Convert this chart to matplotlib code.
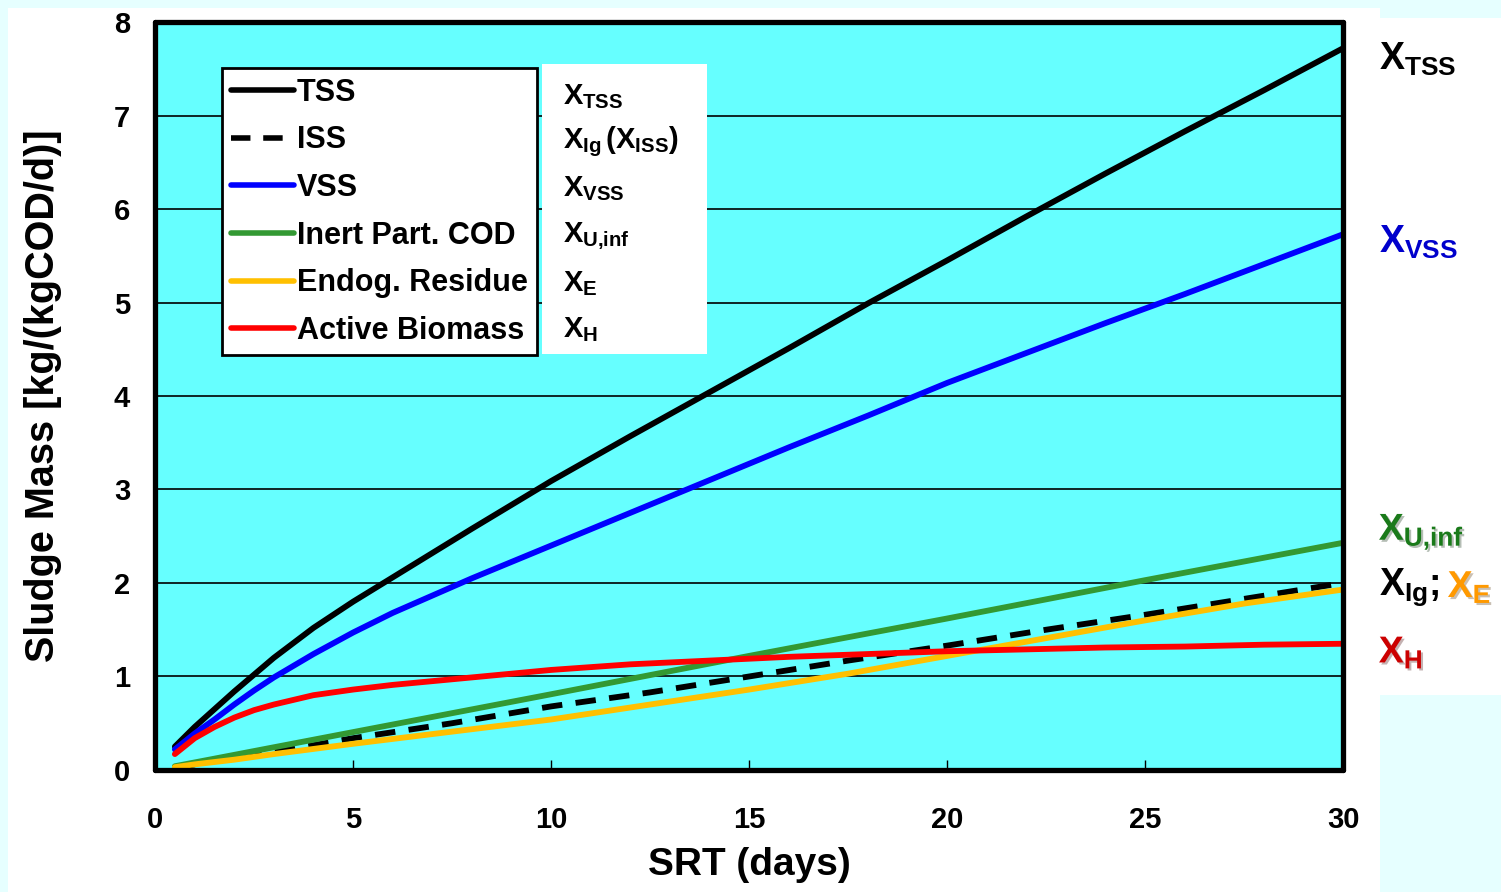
import matplotlib
matplotlib.use("Agg")
import matplotlib.pyplot as plt
from matplotlib.patches import Rectangle
import matplotlib.transforms as mtransforms
import matplotlib.patheffects as pe

plt.rcParams['font.family'] = ['Liberation Sans', 'DejaVu Sans']
plt.rcParams['font.weight'] = 'bold'
plt.rcParams['mathtext.fontset'] = 'custom'
plt.rcParams['mathtext.rm'] = 'Liberation Sans:bold'
plt.rcParams['mathtext.bf'] = 'Liberation Sans:bold'
plt.rcParams['mathtext.it'] = 'Liberation Sans:bold'

# SRT (days) and sludge mass
srt_fine = [0.5, 1, 1.5, 2, 2.5, 3, 4, 5, 6, 8, 10, 12, 14, 16, 18, 20, 22, 24, 26, 28, 30]
tss = [0.25, 0.46, 0.65, 0.84, 1.02, 1.2, 1.52, 1.8, 2.06, 2.58, 3.09, 3.57, 4.04, 4.51,
       4.99, 5.45, 5.92, 6.38, 6.83, 7.27, 7.72]
vss = [0.22, 0.39, 0.54, 0.7, 0.85, 0.99, 1.24, 1.47, 1.68, 2.05, 2.4, 2.75, 3.1, 3.45,
       3.79, 4.14, 4.46, 4.78, 5.09, 5.41, 5.73]
active = [0.17, 0.34, 0.46, 0.56, 0.64, 0.7, 0.8, 0.86, 0.91, 0.99, 1.07, 1.13, 1.17, 1.21,
          1.24, 1.27, 1.29, 1.31, 1.32, 1.34, 1.35]

srt_coarse = [0.5, 1, 2, 3, 5, 7.5, 10, 12.5, 15, 17.5, 20, 22.5, 25, 27.5, 30]
iss = [0.02, 0.06, 0.13, 0.19, 0.34, 0.5, 0.68, 0.83, 1.0, 1.17, 1.33, 1.5, 1.66, 1.83, 2.0]
endog = [0.03, 0.06, 0.11, 0.17, 0.28, 0.41, 0.54, 0.7, 0.86, 1.03, 1.22, 1.41, 1.6, 1.78, 1.93]

srt_inert = [0.5, 5, 10, 15, 20, 25, 30]
inert = [0.04, 0.405, 0.81, 1.22, 1.62, 2.03, 2.43]

legend_names = ['TSS', 'ISS', 'VSS', 'Inert Part. COD', 'Endog. Residue', 'Active Biomass']
symbol_names = [r'$X_{TSS}$', r'$X_{Ig}\,(X_{ISS})$', r'$X_{VSS}$', r'$X_{U{,}inf}$',
                r'$X_{E}$', r'$X_{H}$']

fig = plt.figure(figsize=(15.01, 8.92), dpi=100, facecolor='#e6ffff')
# slide background: mostly white with pale cyan edges
fig.patches.append(Rectangle((8 / 1501, 0), 1372 / 1501, 884 / 892, transform=fig.transFigure,
                             facecolor='white', edgecolor='none', zorder=-10))
fig.patches.append(Rectangle((1380 / 1501, 197 / 892), 121 / 1501, 677 / 892,
                             transform=fig.transFigure, facecolor='white', edgecolor='none',
                             zorder=-10))

ax = fig.add_axes([0.1033, 0.1368, 0.7915, 0.8385])
ax.set_facecolor('#66ffff')

lw = 4.2
ax.plot(srt_fine, tss, color='black', lw=lw, label=legend_names[0], solid_capstyle='round')
ax.plot(srt_coarse, iss, color='black', lw=lw, ls=(0, (3.5, 2.3)), label=legend_names[1])
ax.plot(srt_fine, vss, color='#0000ff', lw=lw, label=legend_names[2], solid_capstyle='round')
ax.plot(srt_inert, inert, color='#339933', lw=lw, label=legend_names[3], solid_capstyle='round')
ax.plot(srt_coarse, endog, color='#ffc000', lw=lw, label=legend_names[4], solid_capstyle='round')
ax.plot(srt_fine, active, color='#ff0000', lw=lw, label=legend_names[5], solid_capstyle='round')

ax.set_xlim(0, 30)
ax.set_ylim(0, 8)
ax.set_xticks(range(0, 31, 5))
ax.set_yticks(range(0, 9))
ax.grid(axis='y', color='black', lw=1.2)
ax.set_axisbelow(True)
for s in ax.spines.values():
    s.set_linewidth(3.8)
    s.set_capstyle('round')

tick_font = dict(family=['Liberation Sans Narrow', 'Liberation Sans'], weight='bold', size=21)
ax.tick_params(axis='x', direction='in', length=7, width=1, pad=26)
ax.tick_params(axis='y', direction='in', length=0, pad=18)
ax.set_xticklabels([str(v) for v in range(0, 31, 5)], fontdict=tick_font)
ax.set_yticklabels([str(v) for v in range(0, 9)], fontdict=tick_font)

ax.set_xlabel('SRT (days)', fontsize=28, fontweight='bold', labelpad=9)
ax.set_ylabel('Sludge Mass [kg/(kgCOD/d)]', fontsize=28.5, fontweight='bold', labelpad=37)

leg = ax.legend(loc='upper left', bbox_to_anchor=(0.0564, 0.938), fontsize=22,
                handlelength=2.05, handletextpad=0.1, labelspacing=0.58, borderpad=0.3,
                fancybox=False, framealpha=1, edgecolor='black', borderaxespad=0)
leg.get_frame().set_linewidth(2)
for h in leg.get_lines():
    h.set_linewidth(4)

# white panel with symbol names beside the legend
ax.add_patch(Rectangle((0.3258, 0.5561), 0.1389, 0.3878, transform=ax.transAxes,
                       facecolor='white', edgecolor='none', zorder=5))
row_y = [0.9, 0.84, 0.777, 0.713, 0.65, 0.589]
for txt, yy in zip(symbol_names, row_y):
    ax.text(0.343, yy, txt, transform=ax.transAxes, fontsize=21, va='center', ha='left',
            zorder=6)

# labels on the right of the plot
trans = mtransforms.blended_transform_factory(ax.transAxes, ax.transData)
shadow = [pe.SimplePatchShadow(offset=(1.5, -1.5), alpha=0.3), pe.Normal()]
right_labels = [(7.6, r'$X_{TSS}$', 'black', None), (5.64, r'$X_{VSS}$', '#0000cc', None),
                (2.55, r'$X_{U{,}inf}$', '#1a7a1a', shadow), (1.26, r'$X_{H}$', '#cc0000', shadow)]
for yy, txt, col, eff in right_labels:
    ax.text(1.03, yy, txt, transform=trans, fontsize=27, color=col, va='center', ha='left',
            clip_on=False, path_effects=eff)
ax.text(1.03, 1.96, r'$X_{Ig}$;', transform=trans, fontsize=27, color='black',
        va='center', ha='left', clip_on=False)
ax.text(1.088, 1.96, r'$X_{E}$', transform=trans, fontsize=27, color='#ff9900',
        va='center', ha='left', clip_on=False, path_effects=shadow)

fig.savefig('out.png', dpi=100, facecolor=fig.get_facecolor())
